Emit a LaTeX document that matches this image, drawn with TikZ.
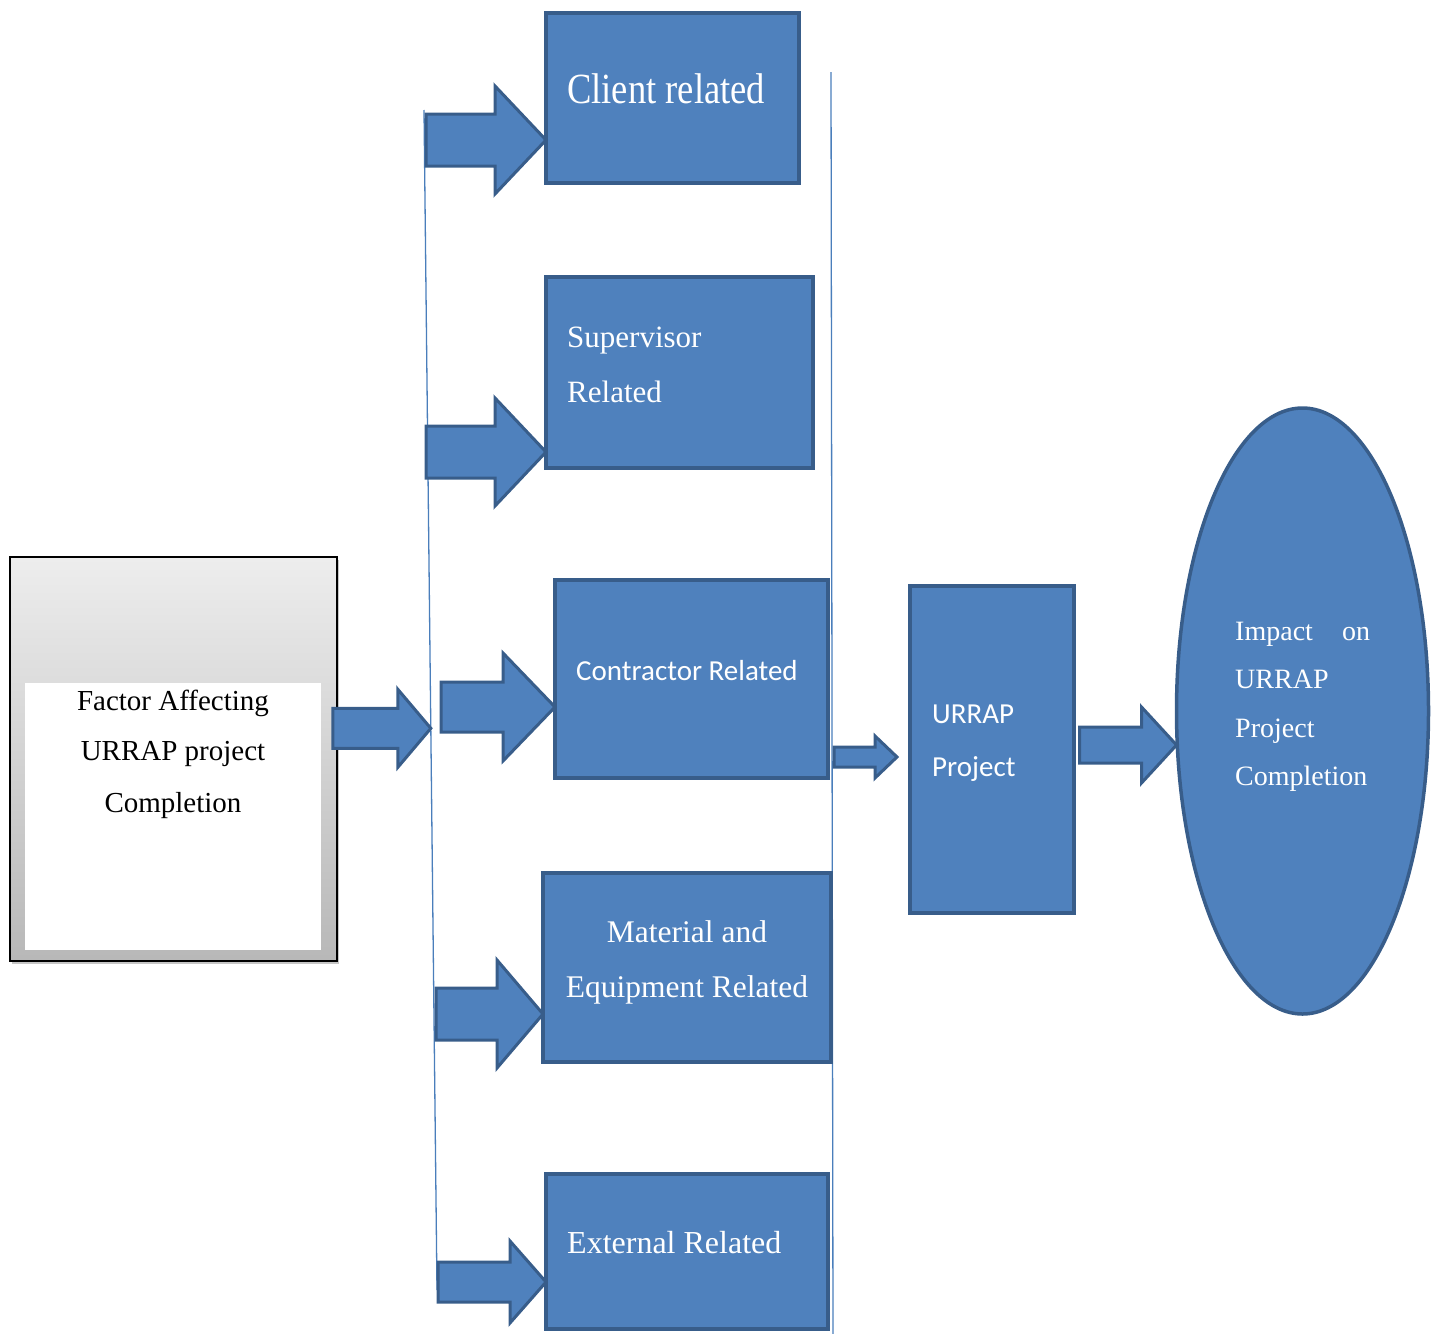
\documentclass[tikz,border=0pt]{standalone}
\usepackage{fontspec}
\setmainfont{Liberation Serif}
\newfontfamily\clientfont[FakeStretch=0.85]{Liberation Serif}
\newfontfamily\calfont{Carlito}
\usetikzlibrary{shapes.geometric,shadows,calc}
\definecolor{bfill}{HTML}{4F81BD}
\definecolor{bline}{HTML}{385D8A}
\definecolor{thinblue}{HTML}{4A7EBB}
\tikzset{
  bluebox/.style={draw=bline, fill=bfill, line width=3.5pt, rectangle, inner sep=0pt, outer sep=0pt, anchor=north west},
  blueell/.style={draw=bline, fill=bfill, line width=3.5pt, ellipse, inner sep=0pt, outer sep=0pt},
  blockarrow/.style={draw=bline, fill=bfill, line width=3pt, line join=miter},
  thinline/.style={draw=thinblue, line width=1.3pt},
  wtext/.style={text=white, inner sep=0pt},
  btext/.style={text=black, inner sep=0pt, anchor=base},
}
\newcommand\barrow[5]{%
  \draw[blockarrow] (#1) -- ++({-#3},{-#5}) -- ++(0,{#5-#4}) -- ++({-#2+#3},0)
    -- ++(0,{2*#4}) -- ++({#2-#3},0) -- ++(0,{#5-#4}) -- cycle;}
\begin{document}
\begin{tikzpicture}[x=1pt,y=-1pt]
\useasboundingbox (0,0) rectangle (1439,1333);
% thin vertical lines
\coordinate (lt) at (424,110);
\coordinate (lb) at (437,1290);
\coordinate (rt) at (831,72);
\coordinate (rb) at (833,1340);
\draw[thinline] (lt) -- (lb);
\draw[thinline] (rt) -- (rb);
% left box
\node[draw=black, line width=2pt, top color=black!7, bottom color=black!28,
  minimum width=327pt, minimum height=404pt, anchor=north west, inner sep=0pt, outer sep=0pt,
  drop shadow={shadow xshift=2pt, shadow yshift=-3pt, opacity=0.45}] (factor) at (10,557) {};
\node[fill=white, minimum width=296pt, minimum height=267pt, anchor=north west, inner sep=0pt, outer sep=0pt] (factorin) at (25,683) {};
\begin{scope}[every node/.style={btext}]
\fontsize{29}{35}\selectfont
\node (f1) at (173,710) {Factor Affecting};
\node (f2) at (173,760) {URRAP project};
\node (f3) at (173,812) {Completion};
\end{scope}
% blue boxes
\node[bluebox, minimum width=253pt, minimum height=170pt] (client) at (546,13) {};
\node[bluebox, minimum width=267pt, minimum height=191pt] (sup) at (546,277) {};
\node[bluebox, minimum width=273pt, minimum height=198pt] (con) at (555,580) {};
\node[bluebox, minimum width=288pt, minimum height=189pt] (mat) at (543,873) {};
\node[bluebox, minimum width=282pt, minimum height=155pt] (ext) at (546,1174) {};
\node[bluebox, minimum width=164pt, minimum height=327pt] (urrap) at (910,586) {};
\node[blueell, minimum width=252pt, minimum height=606pt] (impact) at (1302.5,711) {};
% texts
\node[wtext, anchor=base west, font=\clientfont\fontsize{43}{50}\selectfont] (clientT) at (567,103) {Client related};
\node[wtext, anchor=base west, font=\fontsize{31}{36}\selectfont] (supT1) at (567,347) {Supervisor};
\node[wtext, anchor=base west, font=\fontsize{31}{36}\selectfont] (supT2) at (567,402) {Related};
\node[wtext, anchor=base west, font=\calfont\fontsize{29}{34}\selectfont] (conT) at (576,680) {Contractor Related};
\node[wtext, anchor=base, font=\fontsize{31.5}{36}\selectfont] (matT1) at (687,942) {Material and};
\node[wtext, anchor=base, font=\fontsize{31.5}{36}\selectfont] (matT2) at (687,997) {Equipment Related};
\node[wtext, anchor=base west, font=\fontsize{32}{36}\selectfont] (extT) at (567,1253) {External Related};
\node[wtext, anchor=base west, font=\calfont\fontsize{29}{34}\selectfont] (urT1) at (932,723) {URRAP};
\node[wtext, anchor=base west, font=\calfont\fontsize{29}{34}\selectfont] (urT2) at (932,776) {Project};
\begin{scope}[every node/.style={wtext, anchor=base west, font=\fontsize{28}{32}\selectfont}]
\node (imT1) at (1235,640) {\hbox to 135pt{Impact\hfill on}};
\node (imT2) at (1235,688) {URRAP};
\node (imT3) at (1235,737) {Project};
\node (imT4) at (1235,785) {Completion};
\end{scope}
% arrow tips
\coordinate (t1) at (client.west |- 0,140);
\coordinate (t2) at (sup.west |- 0,452);
\coordinate (t3) at (con.west |- 0,707);
\coordinate (t4) at (mat.west |- 0,1014);
\coordinate (t5) at (ext.west |- 0,1282);
\coordinate (t0) at ($(lt)!0.524!(lb)$);
\coordinate (ts) at (897,757);
\coordinate (tr) at (impact.west |- 0,745);
% block arrows
\barrow{t1}{120}{51}{26}{54}
\barrow{t2}{120}{51}{26}{54}
\barrow{t3}{114}{52}{25}{54}
\barrow{t4}{107}{46}{26}{54}
\barrow{t5}{108}{36}{20}{41}
\barrow{t0}{98}{33}{20}{39}
\barrow{ts}{63}{22}{10}{21}
\barrow{tr}{97}{35}{18}{38}
\end{tikzpicture}
\end{document}
